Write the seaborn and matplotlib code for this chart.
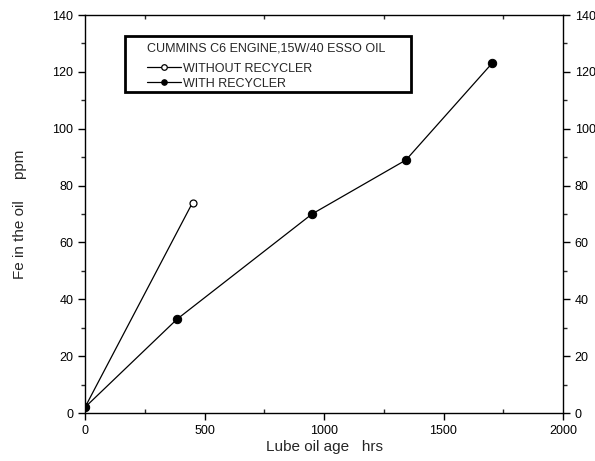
import matplotlib
matplotlib.use("Agg")
import matplotlib.pyplot as plt
import seaborn as sns
import pandas as pd
from matplotlib.ticker import MultipleLocator
from matplotlib.patches import Rectangle

sns.set_style("ticks")
plt.rcParams['font.family'] = ['Liberation Sans', 'DejaVu Sans']

hours_without = [0, 450]
fe_without = [2, 74]
hours_with = [0, 385, 950, 1343, 1703]
fe_with = [2, 33, 70, 89, 123]

df = pd.concat([
    pd.DataFrame({"hrs": hours_without, "fe": fe_without, "s": "WITHOUT RECYCLER"}),
    pd.DataFrame({"hrs": hours_with, "fe": fe_with, "s": "WITH RECYCLER"}),
])

W, H = 595, 461
fig = plt.figure(figsize=(W / 100, H / 100), dpi=100)
ax = fig.add_axes([85/W, 1-413/H, (563-85)/W, (413-15)/H])

sub = df[df.s == "WITHOUT RECYCLER"]
sns.lineplot(data=sub, x="hrs", y="fe", ax=ax, color="black", lw=0.9,
             marker="o", markersize=5, markerfacecolor="white",
             markeredgecolor="black", markeredgewidth=0.9, label="WITHOUT RECYCLER")
sub = df[df.s == "WITH RECYCLER"]
sns.lineplot(data=sub, x="hrs", y="fe", ax=ax, color="black", lw=0.9,
             marker="o", markersize=6, markerfacecolor="black",
             markeredgecolor="black", label="WITH RECYCLER")

ax.set_xlim(0, 2000)
ax.set_ylim(0, 140)
ax.xaxis.set_major_locator(MultipleLocator(500))
ax.xaxis.set_minor_locator(MultipleLocator(250))
ax.yaxis.set_major_locator(MultipleLocator(20))
ax.yaxis.set_minor_locator(MultipleLocator(10))
for s in ax.spines.values():
    s.set_linewidth(1.0)
    s.set_color("black")
ax.tick_params(axis="both", which="major", direction="out", length=5, width=1,
               labelsize=9, colors="black", left=True, right=True, labelright=True,
               bottom=True, top=False)
ax.tick_params(axis="y", which="minor", direction="out", length=3, width=1,
               left=True, right=True)
ax.tick_params(axis="x", which="minor", direction="in", length=3, width=1,
               bottom=True, top=True)
ax.set_xlabel("Lube oil age   hrs", fontsize=11, labelpad=2)
ax.set_ylabel("Fe in the oil     ppm", fontsize=11, labelpad=18)

leg = ax.legend(title="CUMMINS C6 ENGINE,15W/40 ESSO OIL", loc="upper left",
                bbox_to_anchor=(147 / W, 1 - 43 / H), bbox_transform=fig.transFigure,
                fontsize=9, title_fontsize=9,
                frameon=False, handlelength=2.7, handletextpad=0.15,
                labelspacing=0.25, borderpad=0, borderaxespad=0, alignment="left")
leg._legend_box.align = "left"
leg._legend_box.sep = 5.5
for h in leg.legend_handles:
    h.set_markersize(4)

fig.patches.append(Rectangle((125 / W, 1 - 92 / H), (411 - 125) / W, (92 - 36) / H,
                             transform=fig.transFigure, fill=False,
                             edgecolor="black", linewidth=2, zorder=5))

fig.savefig("out.png", dpi=100)
